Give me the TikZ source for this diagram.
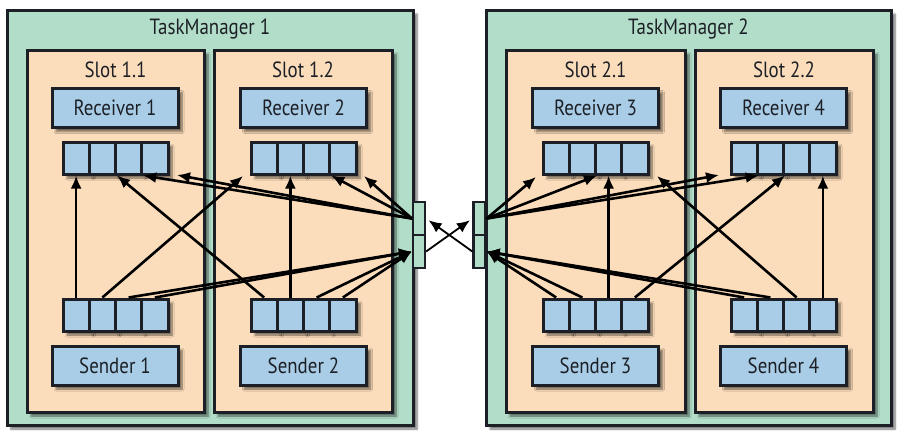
\documentclass[tikz,border=0pt]{standalone}
\usepackage{fontspec}
\setmainfont{PT Sans}[FakeStretch=0.86]
\usetikzlibrary{arrows.meta,shadows.blur}
\definecolor{tmgreen}{RGB}{178,221,201}
\definecolor{slotpeach}{RGB}{252,221,187}
\definecolor{qblue}{RGB}{169,205,231}
\definecolor{ink}{RGB}{28,32,38}
\tikzset{
	shade/.style={blur shadow={shadow xshift=4pt,shadow yshift=-4pt,shadow blur steps=7,shadow opacity=55}},
	tmbox/.style={draw=ink,fill=tmgreen,line width=3pt,inner sep=0pt,shade},
	slotbox/.style={draw=ink,fill=slotpeach,line width=3pt,inner sep=0pt,shade},
	bluebox/.style={draw=ink,fill=qblue,line width=3pt,inner sep=0pt,minimum width=126,minimum height=39,shade,text=ink,font=\fontsize{22}{26}\selectfont},
	cellbox/.style={draw=ink,fill=qblue,line width=3pt,inner sep=0pt,minimum width=26.25,minimum height=32,shade},
	portbox/.style={draw=ink,fill=tmgreen,line width=2.2pt,inner sep=0pt,minimum width=12,minimum height=33},
	title/.style={text=ink,font=\fontsize{22}{26}\selectfont,inner sep=0pt},
	flow/.style={-{Latex[length=13pt,width=11pt]},line width=2.6pt,draw=black}
}
\newcommand{\bufq}[3]{%
	\foreach \k in {1,...,4}
		\node[cellbox] (#1-\k) at ({#2+(\k-0.5)*26.25},#3) {};
}
\begin{document}
\begin{tikzpicture}[x=1pt,y=-1pt]
	\useasboundingbox (0,0) rectangle (903,432);
	\node[tmbox,minimum width=406,minimum height=415] (tm1) at (210,217.5) {};
	\node[tmbox,minimum width=405,minimum height=415] (tm2) at (688.5,217.5) {};
	\node[title] (tm1t) at (210,29) {TaskManager 1};
	\node[title] (tm2t) at (688.5,29) {TaskManager 2};
	\node[slotbox,minimum width=177,minimum height=362] (sl11) at (115.5,231) {};
	\node[slotbox,minimum width=178,minimum height=362] (sl12) at (303,231) {};
	\node[slotbox,minimum width=179,minimum height=362] (sl21) at (595.5,231) {};
	\node[slotbox,minimum width=178,minimum height=362] (sl22) at (784,231) {};
	\node[title] (sl11t) at (115.5,70) {Slot 1.1};
	\node[title] (sl12t) at (303,70) {Slot 1.2};
	\node[title] (sl21t) at (595.5,70) {Slot 2.1};
	\node[title] (sl22t) at (784,70) {Slot 2.2};
	\node[bluebox] (rcv1) at (115,108) {Receiver 1};
	\node[bluebox] (rcv2) at (303.5,108) {Receiver 2};
	\node[bluebox] (rcv3) at (595.5,108) {Receiver 3};
	\node[bluebox] (rcv4) at (783.5,108) {Receiver 4};
	\node[bluebox] (snd1) at (115,365.5) {Sender 1};
	\node[bluebox] (snd2) at (303.5,365.5) {Sender 2};
	\node[bluebox] (snd3) at (595.5,365.5) {Sender 3};
	\node[bluebox] (snd4) at (783.5,365.5) {Sender 4};
	\bufq{r1q}{63}{158}
	\bufq{r2q}{251}{158}
	\bufq{r3q}{543}{158}
	\bufq{r4q}{731}{158}
	\bufq{s1q}{63}{315}
	\bufq{s2q}{251}{315}
	\bufq{s3q}{543}{315}
	\bufq{s4q}{731}{315}
	\node[portbox] (p1in) at (419,218.5) {};
	\node[portbox] (p1out) at (419,251.5) {};
	\node[portbox] (p2in) at (479.5,218.5) {};
	\node[portbox] (p2out) at (479.5,251.5) {};
	\coordinate (r1end) at (177,175);
	\coordinate (r2cross) at (243,176);
	\coordinate (r2end) at (364,176);
	\coordinate (r3begin) at (536,177);
	\coordinate (r3cross) at (657,176);
	\coordinate (r4begin) at (719,175);
	\draw[flow] (s1q-1.north) -- (r1q-1.south);
	\draw[flow] (s1q-2.north) -- (r2cross);
	\draw[flow] (s2q-1.north) -- (r1q-2.south east);
	\draw[flow] (s2q-2.north) -- (r2q-2.south);
	\draw[flow] (p1in.west) -- (r1q-3.south east);
	\draw[flow] (p1in.west) -- (r1end);
	\draw[flow] (p1in.west) -- (r2q-3.south east);
	\draw[flow] (p1in.west) -- (r2end);
	\draw[flow] (s1q-3.north) -- (p1out.west);
	\draw[flow] (s1q-4.north) -- (p1out.west);
	\draw[flow] (s2q-3.north) -- (p1out.west);
	\draw[flow] (s2q-4.north) -- (p1out.west);
	\draw[flow,line width=1.8pt,shorten >=3pt] (p1out.east) -- (p2in.west);
	\draw[flow,line width=1.8pt,shorten >=3pt] (p2out.west) -- (p1in.east);
	\draw[flow] (p2in.east) -- (r3begin);
	\draw[flow] (p2in.east) -- (r3q-2.south east);
	\draw[flow] (p2in.east) -- (r4begin);
	\draw[flow] (p2in.east) -- (r4q-1.south east);
	\draw[flow] (s3q-3.north) -- (r3q-3.south);
	\draw[flow] (s3q-4.north) -- (r4q-2.south east);
	\draw[flow] (s4q-3.north) -- (r3cross);
	\draw[flow] (s4q-4.north) -- (r4q-4.south);
	\draw[flow] (s3q-1.north) -- (p2out.east);
	\draw[flow] (s3q-2.north) -- (p2out.east);
	\draw[flow] (s4q-1.north) -- (p2out.east);
	\draw[flow] (s4q-2.north) -- (p2out.east);
\end{tikzpicture}
\end{document}
